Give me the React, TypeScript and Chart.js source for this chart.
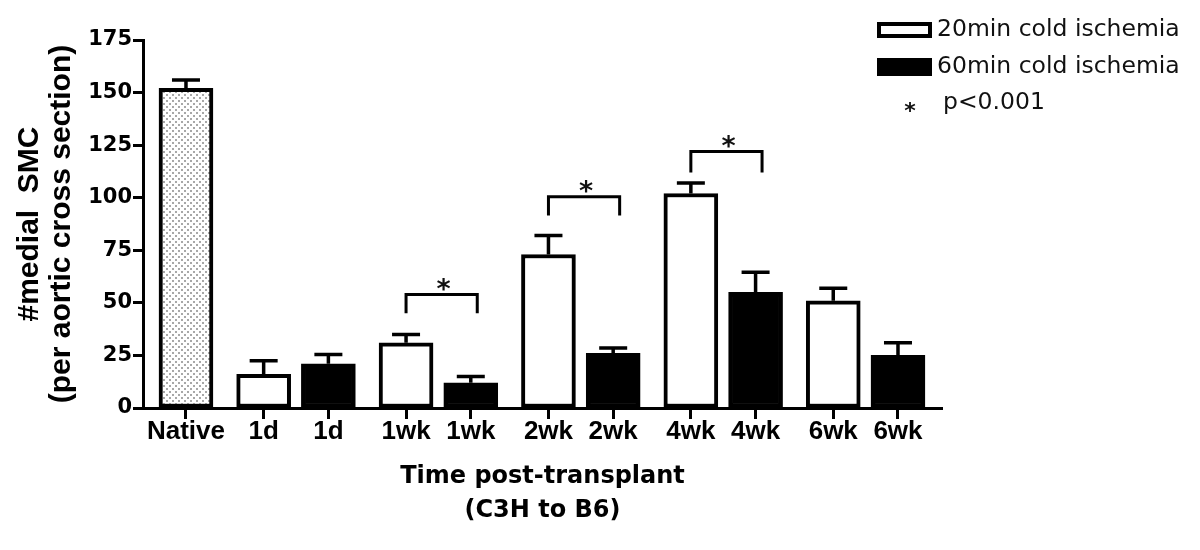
import React, { useEffect, useRef } from 'react';
import { Chart, registerables } from 'chart.js';

Chart.register(...registerables);

// ---------- data ----------
const nativeLabels = ['Native'];
const nativeValues = [152];
const nativeErrors = [4];

const groupLabels = ['1d', '1wk', '2wk', '4wk', '6wk'];
const cold20Values = [16, 31, 73, 102, 51];
const cold20Errors = [6.5, 4, 9, 5, 6];
const cold60Values = [21, 12, 26, 55, 25];
const cold60Errors = [4.5, 3, 2.5, 9.5, 6];

const seriesNames = ['20min cold ischemia', '60min cold ischemia'];

const sigGroups = ['1wk', '2wk', '4wk'];
const sigTop = [54, 100.5, 122];
const sigLeg = [45, 91.5, 112];
const sigSymbol = '*';
const sigNote = 'p<0.001';

const yTitleLines = ['#medial  SMC', '(per aortic cross section)'];
const xTitleLines = ['Time post-transplant', '(C3H to B6)'];

// ---------- layout helpers (not data) ----------
const pos20 = (g: number) => 1.2 + 2.2 * g;
const pos60 = (g: number) => 2.2 + 2.2 * g;
const NATIVE_POS = 0;

const tickValues = [NATIVE_POS, ...groupLabels.flatMap((_, g) => [pos20(g), pos60(g)])];
const tickLabels = [...nativeLabels, ...groupLabels.flatMap((l) => [l, l])];

function makePattern(): CanvasPattern | string {
  const c = document.createElement('canvas');
  c.width = 6;
  c.height = 6;
  const g = c.getContext('2d');
  if (!g) return '#ddd';
  g.fillStyle = '#ffffff';
  g.fillRect(0, 0, 6, 6);
  g.fillStyle = '#a8a8a8';
  g.fillRect(1, 1, 2, 2);
  g.fillRect(4, 4, 2, 2);
  return g.createPattern(c, 'repeat') || '#ddd';
}

const errorBarPlugin = {
  id: 'errorBars',
  afterDatasetsDraw(chart: any) {
    const ctx = chart.ctx;
    const y = chart.scales.y;
    chart.data.datasets.forEach((ds: any, di: number) => {
      const meta = chart.getDatasetMeta(di);
      (ds.errors || []).forEach((e: number, i: number) => {
        const bar = meta.data[i];
        if (!bar) return;
        const v = ds.data[i].y;
        const px = bar.x;
        const top = y.getPixelForValue(v);
        const end = y.getPixelForValue(v + e);
        ctx.save();
        ctx.strokeStyle = '#000';
        ctx.lineWidth = 3.5;
        ctx.beginPath();
        ctx.moveTo(px, top);
        ctx.lineTo(px, end);
        ctx.moveTo(px - 14, end);
        ctx.lineTo(px + 14, end);
        ctx.stroke();
        ctx.restore();
      });
    });
  },
};

function drawCenteredStar(ctx: CanvasRenderingContext2D, cx: number, cy: number, font: string) {
  ctx.save();
  ctx.font = font;
  ctx.textAlign = 'center';
  ctx.textBaseline = 'alphabetic';
  const m = ctx.measureText(sigSymbol);
  const off = (m.actualBoundingBoxAscent - m.actualBoundingBoxDescent) / 2;
  ctx.fillStyle = '#111';
  ctx.fillText(sigSymbol, cx, cy + off);
  ctx.restore();
}

const bracketPlugin = {
  id: 'sigBrackets',
  afterDatasetsDraw(chart: any) {
    const ctx = chart.ctx;
    const x = chart.scales.x;
    const y = chart.scales.y;
    sigGroups.forEach((name, k) => {
      const g = groupLabels.indexOf(name);
      const x1 = x.getPixelForValue(pos20(g));
      const x2 = x.getPixelForValue(pos60(g) + 0.1);
      const yt = y.getPixelForValue(sigTop[k]);
      const yl = y.getPixelForValue(sigLeg[k]);
      ctx.save();
      ctx.strokeStyle = '#000';
      ctx.lineWidth = 3;
      ctx.lineCap = 'butt';
      ctx.lineJoin = 'miter';
      ctx.beginPath();
      ctx.moveTo(x1, yl);
      ctx.lineTo(x1, yt);
      ctx.lineTo(x2, yt);
      ctx.lineTo(x2, yl);
      ctx.stroke();
      ctx.restore();
      drawCenteredStar(ctx, (x1 + x2) / 2 + 2, yt - 10, 'bold 27px "DejaVu Sans"');
    });
  },
};

const legendPlugin = {
  id: 'customLegend',
  afterDraw(chart: any) {
    const ctx = chart.ctx;
    const bx = 877;
    const bw = 55;
    ctx.save();
    // white box
    ctx.fillStyle = '#fff';
    ctx.fillRect(bx, 22, bw, 16);
    ctx.strokeStyle = '#000';
    ctx.lineWidth = 4;
    ctx.strokeRect(bx + 2, 24, bw - 4, 12);
    // black box
    ctx.fillStyle = '#000';
    ctx.fillRect(bx, 58, bw, 18);
    ctx.font = '23.5px "DejaVu Sans"';
    ctx.fillStyle = '#111';
    ctx.textAlign = 'left';
    ctx.textBaseline = 'middle';
    ctx.fillText(seriesNames[0], 937, 30);
    ctx.fillText(seriesNames[1], 937, 67);
    ctx.textBaseline = 'alphabetic';
    ctx.fillText(sigNote, 943, 109);
    ctx.restore();
    drawCenteredStar(ctx, 910, 107, 'bold 22px "DejaVu Sans"');
  },
};

export default function App() {
  const ref = useRef<HTMLCanvasElement | null>(null);

  useEffect(() => {
    if (!ref.current) return;
    const pattern = makePattern();
    const common = {
      borderColor: '#000',
      borderWidth: 4,
      borderSkipped: false,
      grouped: false,
      barThickness: 54,
    };
    const chart = new Chart(ref.current, {
      type: 'bar',
      data: {
        datasets: [
          {
            label: nativeLabels[0],
            data: nativeValues.map((v) => ({ x: NATIVE_POS, y: v })),
            backgroundColor: pattern as any,
            errors: nativeErrors,
            ...common,
          } as any,
          {
            label: seriesNames[0],
            data: cold20Values.map((v, g) => ({ x: pos20(g), y: v })),
            backgroundColor: '#fff',
            errors: cold20Errors,
            ...common,
          } as any,
          {
            label: seriesNames[1],
            data: cold60Values.map((v, g) => ({ x: pos60(g), y: v })),
            backgroundColor: '#000',
            errors: cold60Errors,
            ...common,
          } as any,
        ],
      },
      options: {
        animation: false,
        responsive: true,
        maintainAspectRatio: false,
        layout: { padding: { top: 40, right: 258, bottom: 0, left: 0 } },
        plugins: {
          legend: { display: false },
          tooltip: { enabled: false },
        },
        scales: {
          x: {
            type: 'linear',
            min: -0.664,
            max: 11.68,
            offset: false,
            grid: {
              offset: false,
              drawOnChartArea: false,
              drawTicks: true,
              tickLength: 11,
              tickWidth: 3,
              tickColor: '#000',
            },
            border: { display: true, color: '#000', width: 3 },
            afterBuildTicks: (scale: any) => {
              scale.ticks = tickValues.map((v) => ({ value: v }));
            },
            afterFit: (scale: any) => {
              scale.height = 142;
            },
            ticks: {
              autoSkip: false,
              maxRotation: 0,
              padding: 0,
              color: '#000',
              font: { family: '"Liberation Sans"', size: 26, weight: 'bold', lineHeight: 1 },
              callback: (_v: any, i: number) => tickLabels[i],
            },
            title: {
              display: true,
              text: xTitleLines,
              color: '#000',
              font: { family: '"DejaVu Sans"', size: 24, weight: 'bold', lineHeight: '34px' as any },
              padding: { top: 0, bottom: 22 },
            },
          },
          y: {
            min: 0,
            max: 175,
            grid: {
              drawOnChartArea: false,
              drawTicks: true,
              tickLength: 10,
              tickWidth: 3,
              tickColor: '#000',
            },
            border: { display: true, color: '#000', width: 3 },
            afterFit: (scale: any) => {
              scale.width = 143;
            },
            ticks: {
              stepSize: 25,
              padding: 1,
              color: '#000',
              font: { family: '"DejaVu Sans"', size: 21, weight: 'bold' },
            },
            title: {
              display: true,
              text: yTitleLines,
              color: '#000',
              font: { family: '"Liberation Sans"', size: 30, weight: 'bold', lineHeight: '32px' as any },
              padding: { top: 14, bottom: 0 },
            },
          },
        },
      } as any,
      plugins: [errorBarPlugin, bracketPlugin, legendPlugin],
    });
    return () => chart.destroy();
  }, []);

  return (
    <div style={{ position: 'fixed', left: 0, top: 0, width: 1200, height: 550, background: '#fff' }}>
      <canvas ref={ref} />
    </div>
  );
}
